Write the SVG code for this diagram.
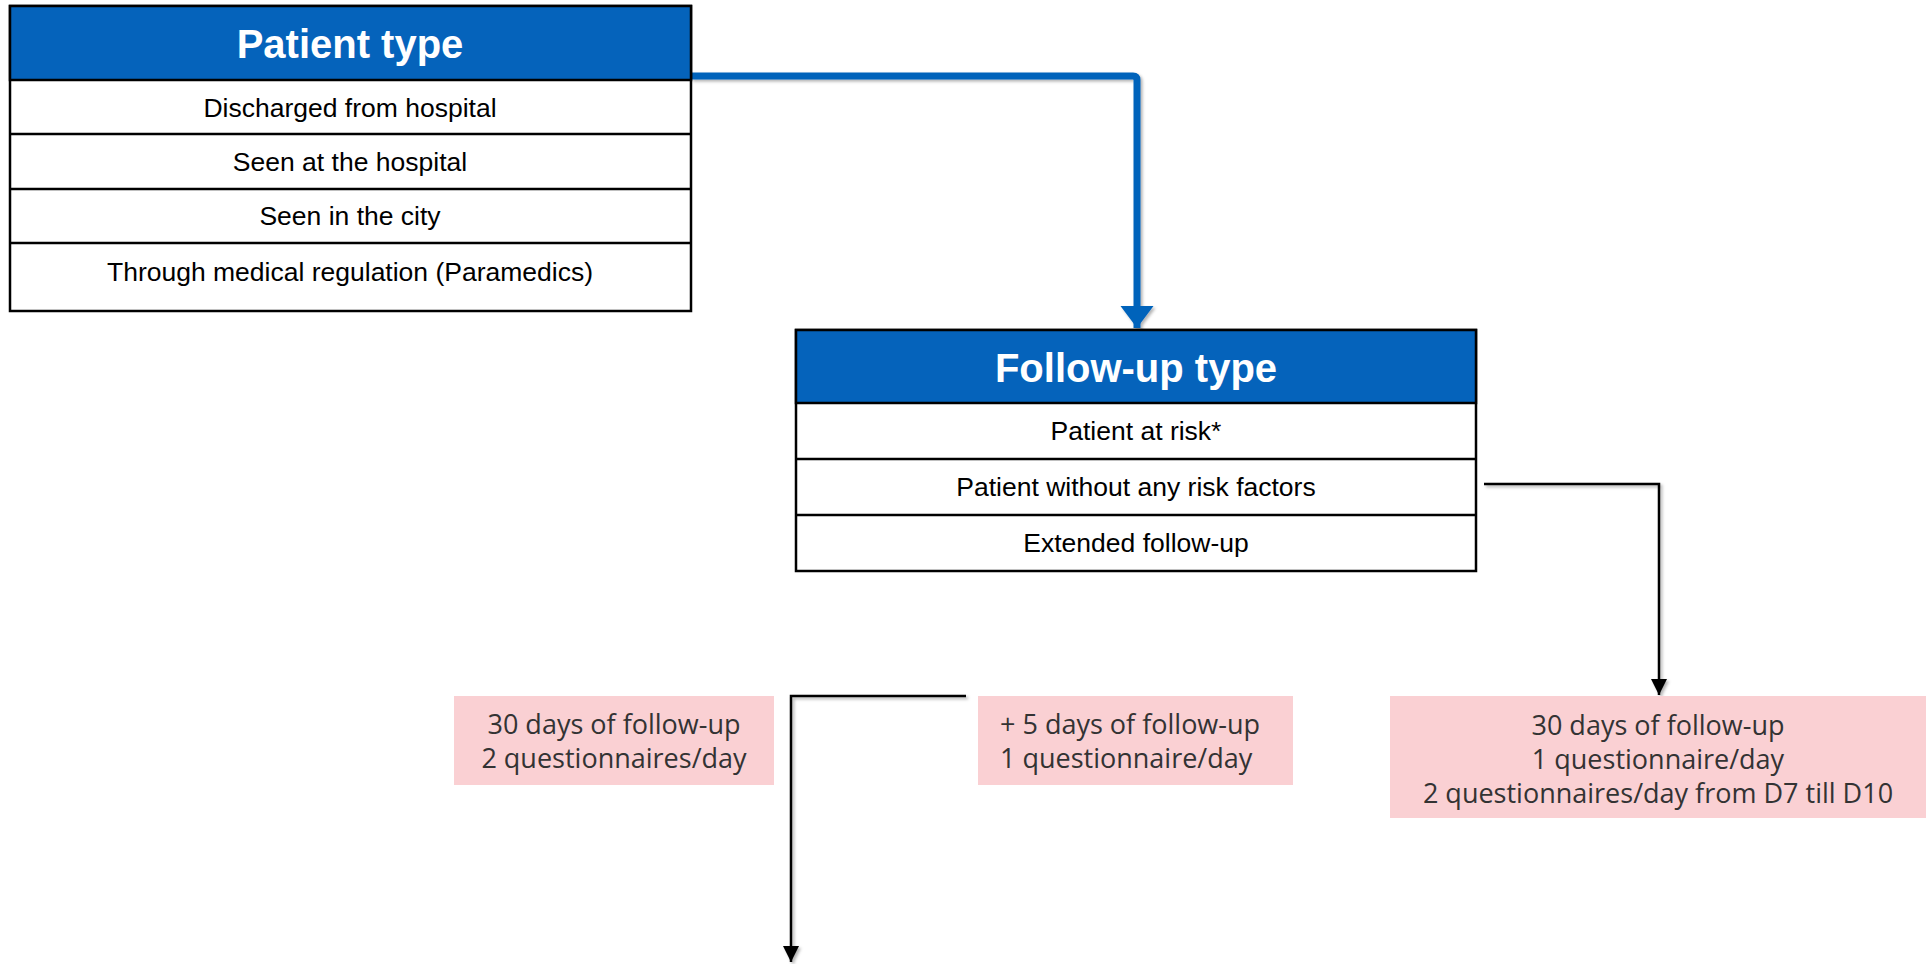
<svg xmlns="http://www.w3.org/2000/svg" width="1926" height="964" viewBox="0 0 1926 964">
  <style>
    .box{fill:#fff;stroke:#000;stroke-width:2.5}
    .hdr{fill:#0563BB;stroke:#000;stroke-width:2.5}
    .sep{stroke:#000;stroke-width:2.5}
    .htxt{font-family:"Liberation Sans",Arial,sans-serif;font-weight:bold;font-size:40px;fill:#fff;text-anchor:middle}
    .rtxt{font-family:"Liberation Sans",Arial,sans-serif;font-size:26.5px;fill:#000;text-anchor:middle}
    .pink{fill:#FAD0D3}
    .ptxt{font-family:"Open Sans","Noto Sans",sans-serif;font-size:27px;fill:#333}
    .blk{fill:none;stroke:#000;stroke-width:2.5;filter:url(#sh)}
    .blu{fill:none;stroke:#0563BB;stroke-width:7;stroke-linejoin:round;filter:url(#sh)}
  </style>
  <defs>
    <filter id="sh" x="-10%" y="-10%" width="120%" height="120%">
      <feDropShadow dx="2" dy="2" stdDeviation="1.5" flood-color="#000" flood-opacity="0.3"/>
    </filter>
    <marker id="ab" markerUnits="userSpaceOnUse" markerWidth="17" markerHeight="17" refX="16" refY="8" orient="auto">
      <path d="M0,0 L16,8 L0,16 Z" fill="#000"/>
    </marker>
    <marker id="au" markerUnits="userSpaceOnUse" markerWidth="24" markerHeight="34" refX="22" refY="16.5" orient="auto">
      <path d="M0,0 L22,16.5 L0,33 Z" fill="#0563BB"/>
    </marker>
  </defs>

  <g id="connectors">
    <path class="blu" d="M691,76 H1133 Q1137,76 1137,80 V328" marker-end="url(#au)"/>
    <path class="blk" d="M1136,571 V695" marker-end="url(#ab)"/>
    <path class="blk" d="M1484,484 H1659 V695" marker-end="url(#ab)"/>
    <path class="blk" d="M966,696 H791 V962" marker-end="url(#ab)"/>
  </g>

  <g id="patient-type">
    <rect class="box" x="10" y="6" width="681" height="305"/>
    <rect class="hdr" x="10" y="6" width="681" height="74"/>
    <line class="sep" x1="10" y1="134" x2="691" y2="134"/>
    <line class="sep" x1="10" y1="189" x2="691" y2="189"/>
    <line class="sep" x1="10" y1="243" x2="691" y2="243"/>
    <text class="htxt" x="350" y="58">Patient type</text>
    <text class="rtxt" x="350" y="117">Discharged from hospital</text>
    <text class="rtxt" x="350" y="171">Seen at the hospital</text>
    <text class="rtxt" x="350" y="225">Seen in the city</text>
    <text class="rtxt" x="350" y="281">Through medical regulation (Paramedics)</text>
  </g>

  <g id="follow-up-type">
    <rect class="box" x="796" y="330" width="680" height="241"/>
    <rect class="hdr" x="796" y="330" width="680" height="73"/>
    <line class="sep" x1="796" y1="459" x2="1476" y2="459"/>
    <line class="sep" x1="796" y1="515" x2="1476" y2="515"/>
    <text class="htxt" x="1136" y="382">Follow-up type</text>
    <text class="rtxt" x="1136" y="440">Patient at risk*</text>
    <text class="rtxt" x="1136" y="496">Patient without any risk factors</text>
    <text class="rtxt" x="1136" y="552">Extended follow-up</text>
  </g>

  <g id="plan-30-days-2q">
    <rect class="pink" x="454" y="696" width="320" height="89"/>
    <text class="ptxt" x="614" y="734" text-anchor="middle">30 days of follow-up</text>
    <text class="ptxt" x="614" y="768" text-anchor="middle">2 questionnaires/day</text>
  </g>

  <g id="plan-extended">
    <rect class="pink" x="978" y="696" width="315" height="89"/>
    <text class="ptxt" x="1000" y="734">+ 5 days of follow-up</text>
    <text class="ptxt" x="1000" y="768">1 questionnaire/day</text>
  </g>

  <g id="plan-no-risk">
    <rect class="pink" x="1390" y="696" width="536" height="122"/>
    <text class="ptxt" x="1658" y="735" text-anchor="middle">30 days of follow-up</text>
    <text class="ptxt" x="1658" y="769" text-anchor="middle">1 questionnaire/day</text>
    <text class="ptxt" x="1658" y="803" text-anchor="middle">2 questionnaires/day from D7 till D10</text>
  </g>
</svg>
